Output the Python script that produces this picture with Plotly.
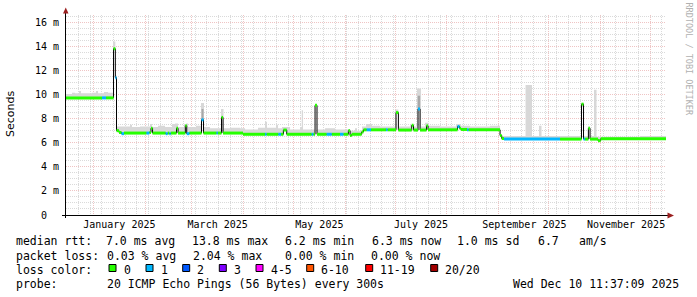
import plotly.graph_objects as go

X_START = "2024-12-15 11:37:09"
X_END = "2025-12-10 11:37:09"

# ---- median rtt (ms), step series with loss class index ----
med_dates = [
    "2024-12-15 11:37", "2025-01-06 02:00", "2025-01-08 12:00", "2025-01-13 00:00",
    "2025-01-14 02:00", "2025-01-14 19:00", "2025-01-16 07:00", "2025-01-17 19:00",
    "2025-01-19 07:00", "2025-02-01 19:00", "2025-02-03 12:00", "2025-02-04 12:00",
    "2025-02-05 10:00", "2025-02-13 07:00", "2025-02-14 12:00", "2025-02-15 12:00",
    "2025-02-16 07:00", "2025-02-19 19:00", "2025-02-20 17:00", "2025-02-25 02:00",
    "2025-02-25 22:00", "2025-02-27 12:00", "2025-03-06 19:00", "2025-03-08 00:00",
    "2025-03-15 19:00", "2025-03-16 14:00", "2025-03-18 19:00", "2025-03-19 17:00",
    "2025-03-31 17:00", "2025-04-13 22:00", "2025-04-14 19:00", "2025-04-21 22:00",
    "2025-04-23 12:00", "2025-04-24 22:00", "2025-04-26 22:00", "2025-05-11 22:00",
    "2025-05-12 22:00", "2025-05-13 22:00", "2025-05-15 02:00", "2025-05-20 22:00",
    "2025-05-23 22:00", "2025-05-28 22:00", "2025-05-30 22:00", "2025-06-02 22:00",
    "2025-06-03 22:00", "2025-06-04 22:00", "2025-06-10 22:00", "2025-06-12 00:00",
    "2025-06-13 22:00", "2025-06-16 12:00", "2025-06-25 12:00", "2025-06-26 10:00",
    "2025-07-01 12:00", "2025-07-02 22:00", "2025-07-10 22:00", "2025-07-12 00:00",
    "2025-07-14 17:00", "2025-07-15 22:00", "2025-07-19 19:00", "2025-07-20 17:00",
    "2025-08-07 10:00", "2025-08-08 14:00", "2025-08-09 12:00", "2025-08-13 02:00",
    "2025-08-14 00:00", "2025-09-01 22:00", "2025-09-02 22:00", "2025-09-04 07:00",
    "2025-10-07 22:00", "2025-10-20 19:00", "2025-10-22 00:00", "2025-10-22 22:00",
    "2025-10-24 22:00", "2025-10-25 22:00", "2025-10-30 17:00", "2025-11-01 07:00",
]
med_vals = [
    9.72, 9.72, 9.72, 13.8,
    11.4, 7.0, 6.85, 6.75,
    6.8, 6.8, 6.85, 7.2,
    6.8, 6.75, 6.8, 6.75,
    6.8, 7.2, 6.8, 7.4,
    6.75, 6.8, 7.9, 6.8,
    6.8, 6.8, 8.1, 6.8,
    6.7, 6.7, 6.7, 6.7,
    6.7, 7.05, 6.7, 6.7,
    6.7, 9.1, 6.7, 6.7,
    6.7, 6.7, 6.7, 7.0,
    6.6, 6.7, 6.9, 7.07,
    7.07, 7.07, 7.07, 7.07,
    8.5, 7.05, 7.45, 7.05,
    8.8, 7.05, 7.4, 7.07,
    7.35, 7.2, 7.1, 7.07,
    7.07, 6.6, 6.35, 6.3,
    6.3, 9.2, 6.3, 6.3,
    7.2, 6.3, 6.17, 6.33,
]
med_loss = [
    0, 1, 0, 0,
    1, 0, 0, 1,
    0, 1, 0, 0,
    0, 1, 0, 1,
    0, 0, 0, 0,
    1, 0, 1, 0,
    1, 0, 0, 0,
    0, 1, 0, 1,
    0, 0, 0, 1,
    0, 0, 0, 1,
    0, 1, 0, 0,
    0, 0, 0, 0,
    1, 0, 1, 0,
    0, 0, 0, 0,
    1, 0, 0, 0,
    1, 0, 0, 1,
    0, 0, 0, 1,
    0, 0, 1, 0,
    0, 0, 0, 0,
]

# ---- smoke (max ping spread), step series ----
smoke_dates = [
    "2024-12-15 11:37", "2024-12-19 02:00", "2024-12-20 22:00", "2024-12-23 07:00",
    "2024-12-24 12:00", "2024-12-31 02:00", "2025-01-02 12:00", "2025-01-03 17:00",
    "2025-01-07 07:00", "2025-01-09 17:00", "2025-01-12 17:00", "2025-01-14 02:00",
    "2025-01-14 19:00", "2025-01-19 22:00", "2025-01-22 22:00", "2025-01-24 02:00",
    "2025-01-28 22:00", "2025-02-03 22:00", "2025-02-05 02:00", "2025-02-08 17:00",
    "2025-02-12 22:00", "2025-02-17 02:00", "2025-02-18 22:00", "2025-02-20 17:00",
    "2025-02-24 07:00", "2025-02-25 12:00", "2025-02-26 17:00", "2025-03-03 12:00",
    "2025-03-06 12:00", "2025-03-08 07:00", "2025-03-11 22:00", "2025-03-18 12:00",
    "2025-03-20 00:00", "2025-03-23 22:00", "2025-03-29 22:00", "2025-04-01 22:00",
    "2025-04-09 17:00", "2025-04-13 22:00", "2025-04-15 02:00", "2025-04-20 12:00",
    "2025-04-21 17:00", "2025-04-24 02:00", "2025-04-28 22:00", "2025-05-04 22:00",
    "2025-05-05 22:00", "2025-05-06 17:00", "2025-05-13 22:00", "2025-05-15 02:00",
    "2025-05-19 22:00", "2025-05-25 22:00", "2025-06-03 22:00", "2025-06-06 22:00",
    "2025-06-08 02:00", "2025-06-11 02:00", "2025-06-13 12:00", "2025-06-17 02:00",
    "2025-06-21 22:00", "2025-06-30 22:00", "2025-07-02 22:00", "2025-07-09 22:00",
    "2025-07-12 00:00", "2025-07-14 02:00", "2025-07-16 12:00", "2025-07-18 22:00",
    "2025-07-20 17:00", "2025-07-27 22:00", "2025-08-06 12:00", "2025-08-09 12:00",
    "2025-08-14 22:00", "2025-08-26 22:00", "2025-09-01 22:00", "2025-09-17 05:00",
    "2025-09-21 02:00", "2025-09-25 07:00", "2025-09-26 19:00", "2025-10-04 22:00",
    "2025-10-20 12:00", "2025-10-22 07:00", "2025-10-24 17:00", "2025-10-25 22:00",
    "2025-10-28 07:00", "2025-10-29 19:00", "2025-11-09 22:00", "2025-11-24 22:00",
]
smoke_hi = [
    10.05, 10.15, 10.1, 10.3,
    10.1, 10.15, 10.3, 10.1,
    10.2, 10.15, 14.4, 11.6,
    7.35, 7.35, 7.5, 7.3,
    7.35, 7.55, 7.3, 7.4,
    7.3, 7.55, 7.6, 7.3,
    7.5, 7.6, 7.3, 7.4,
    9.3, 7.3, 7.2, 8.8,
    7.2, 7.25, 7.2, 7.1,
    7.25, 7.75, 7.25, 7.5,
    7.2, 7.3, 7.1, 7.3,
    8.7, 7.1, 9.2, 7.1,
    7.2, 7.1, 7.0, 7.2,
    7.0, 7.35, 7.55, 7.4,
    7.35, 8.75, 7.35, 7.45,
    7.35, 10.5, 7.35, 7.65,
    7.4, 7.35, 7.55, 7.4,
    7.35, 7.4, 6.55, 10.8,
    6.55, 7.4, 6.55, 6.55,
    9.3, 6.55, 7.35, 6.55,
    10.4, 6.5, 6.5, 6.55,
]
assert len(med_dates) == len(med_vals) == len(med_loss)
assert len(smoke_dates) == len(smoke_hi)

# darker smoke core at the two big spikes
dark_start = ["2025-03-06 19:00", "2025-07-14 12:00"]
dark_end = ["2025-03-08 00:00", "2025-07-15 22:00"]
dark_lo = [7.9, 8.8]
dark_hi = [8.8, 9.9]

loss_labels = ["0", "1", "2", "3", "4-5", "6-10", "11-19", "20/20"]
loss_colors = ["#26ff00", "#00b8ff", "#0059ff", "#7e00ff", "#ff00ff", "#ff5500", "#ff0000", "#a10000"]

month_starts = ["2025-%02d-01" % m for m in range(1, 13)]
label_dates = ["2025-01-16 12:00", "2025-03-16 12:00", "2025-05-16 12:00",
               "2025-07-16 12:00", "2025-09-16 12:00", "2025-11-16 12:00"]
label_texts = ["January 2025", "March 2025", "May 2025", "July 2025",
               "September 2025", "November 2025"]
y_tick_vals = [0, 2, 4, 6, 8, 10, 12, 14, 16]
y_tick_labels = ["0  ", "2 m", "4 m", "6 m", "8 m", "10 m", "12 m", "14 m", "16 m"]

stat_rows = [
    ["median rtt:", "7.0 ms avg", "13.8 ms max", "6.2 ms min", "6.3 ms now", "1.0 ms sd", "6.7", "am/s"],
    ["packet loss:", "0.03 % avg", "2.04 % max", "0.00 % min", "0.00 % now"],
    ["probe:", "20 ICMP Echo Pings (56 Bytes) every 300s", "Wed Dec 10 11:37:09 2025"],
]
stat_x = [
    [16, 106.4, 192, 285.3, 371.6, 457, 537.6, 579.2],
    [16, 106.6, 192.5, 285.3, 371.3],
    [16, 106.6, 512.6],
]
stat_y = [241, 255.5, 283.5]

MONO = "DejaVu Sans Mono"
W, H = 697, 297
L, R, T, B = 66, 31, 15, 82


def px(xp):
    return (xp - L) / (W - L - R)


def py(yp):
    return (H - B - yp) / (H - T - B)


fig = go.Figure()

ext_dates = med_dates + [X_END]
ext_med = med_vals + [med_vals[-1]]

# smoke band
fig.add_trace(go.Scatter(x=ext_dates, y=ext_med, mode="lines", line=dict(width=0, shape="hv"),
                         hoverinfo="skip", showlegend=False))
fig.add_trace(go.Scatter(x=smoke_dates + [X_END], y=smoke_hi + [smoke_hi[-1]], mode="lines",
                         line=dict(width=0, shape="hv"), fill="tonexty", fillcolor="#d8d8d8",
                         hoverinfo="skip", showlegend=False))
for s, e, lo, hi in zip(dark_start, dark_end, dark_lo, dark_hi):
    fig.add_trace(go.Scatter(x=[s, s, e, e, s], y=[lo, hi, hi, lo, lo], mode="lines",
                             line=dict(width=0), fill="toself", fillcolor="#a8a8a8",
                             hoverinfo="skip", showlegend=False))

# thin black median
fig.add_trace(go.Scatter(x=ext_dates, y=ext_med, mode="lines",
                         line=dict(width=1, color="#000000", shape="hv"),
                         hoverinfo="skip", showlegend=False))

# loss-coloured median segments
for k, col in enumerate(loss_colors):
    xs, ys = [], []
    for i, v in enumerate(med_vals):
        if med_loss[i] == k:
            xs += [ext_dates[i], ext_dates[i + 1], None]
            ys += [v, v, None]
    if xs:
        fig.add_trace(go.Scatter(x=xs, y=ys, mode="lines", line=dict(width=3, color=col),
                                 hoverinfo="skip", showlegend=False))

# carrier trace for label axis
fig.add_trace(go.Scatter(x=[X_START, X_END], y=[0, 0], xaxis="x2", mode="lines",
                         line=dict(width=0), opacity=0, hoverinfo="skip", showlegend=False))

RED = "#efc4c4"
GRAY = "#dadada"
DOT = "1px,1px"

fig.update_layout(
    width=W, height=H,
    margin=dict(l=L, r=R, t=T, b=B, pad=0),
    paper_bgcolor="#ffffff", plot_bgcolor="#ffffff",
    font=dict(family=MONO, size=10, color="#000000"),
    xaxis=dict(
        type="date", range=[X_START, X_END], tickmode="array", tickvals=month_starts,
        showticklabels=False, ticks="", showgrid=True, gridcolor=RED, gridwidth=1, griddash=DOT,
        minor=dict(dtick=7 * 86400000, tick0="2024-12-16", showgrid=True, gridcolor=GRAY,
                   gridwidth=1, griddash=DOT, ticks=""),
        showline=True, linecolor="#000000", linewidth=1, zeroline=False, fixedrange=True,
    ),
    xaxis2=dict(
        type="date", range=[X_START, X_END], overlaying="x", anchor="y", side="bottom",
        tickmode="array", tickvals=label_dates, ticktext=label_texts, showgrid=False,
        ticks="", tickfont=dict(family=MONO, size=10, color="#000000"),
        showline=False, zeroline=False, ticklabelstandoff=2,
    ),
    yaxis=dict(
        range=[0, 16.6], tickmode="array", tickvals=y_tick_vals,
        ticktext=[t.replace(" ", "\u00a0") for t in y_tick_labels],
        showgrid=True, gridcolor=RED, gridwidth=1, griddash=DOT,
        minor=dict(dtick=0.5, tick0=0, showgrid=True, gridcolor=GRAY, gridwidth=1,
                   griddash=DOT, ticks=""),
        ticks="", tickfont=dict(family=MONO, size=10, color="#000000"), ticklabelstandoff=4,
        showline=True, linecolor="#000000", linewidth=1, zeroline=False,
    ),
)

shapes = []
# axis extensions and arrows
shapes.append(dict(type="line", xref="paper", yref="paper", x0=px(62), x1=px(668), y0=py(215.5), y1=py(215.5),
                   line=dict(color="#000000", width=1)))
shapes.append(dict(type="line", xref="paper", yref="paper", x0=px(65.5), x1=px(65.5), y0=py(218), y1=py(12),
                   line=dict(color="#000000", width=1)))
shapes.append(dict(type="path", xref="paper", yref="paper",
                   path="M %f %f L %f %f L %f %f Z" % (px(63), py(13.5), px(68.5), py(13.5), px(65.75), py(7.5)),
                   fillcolor="#9b2020", line=dict(width=0)))
shapes.append(dict(type="path", xref="paper", yref="paper",
                   path="M %f %f L %f %f L %f %f Z" % (px(667.5), py(212.5), px(667.5), py(218.5), px(674), py(215.5)),
                   fillcolor="#9b2020", line=dict(width=0)))

annotations = []
annotations.append(dict(text="Seconds", xref="paper", yref="paper", x=px(10), y=py(114),
                        textangle=-90, showarrow=False, xanchor="center", yanchor="middle",
                        font=dict(family="DejaVu Sans", size=11, color="#000000")))
annotations.append(dict(text="RRDTOOL / TOBI OETIKER", xref="paper", yref="paper", x=px(688.5), y=py(59),
                        textangle=90, showarrow=False, xanchor="center", yanchor="middle",
                        font=dict(family=MONO, size=8.5, color="#b0b0b0")))

for row, xs, yv in zip(stat_rows, stat_x, stat_y):
    for txt, xv in zip(row, xs):
        annotations.append(dict(text=txt.replace(" ", "\u00a0"), xref="paper", yref="paper",
                                x=px(xv), y=py(yv), xanchor="left", yanchor="middle", showarrow=False,
                                borderpad=0, borderwidth=0,
                                font=dict(family=MONO, size=11.5, color="#000000")))

# loss colour legend row
annotations.append(dict(text="loss\u00a0color:", xref="paper", yref="paper", x=px(16), y=py(269.5),
                        xanchor="left", yanchor="middle", showarrow=False, borderpad=0, borderwidth=0,
                        font=dict(family=MONO, size=11.5, color="#000000")))
box_x = [109, 146, 182.7, 219.3, 256, 306.7, 365.7, 430.7]
for bx, lab, col in zip(box_x, loss_labels, loss_colors):
    shapes.append(dict(type="rect", xref="paper", yref="paper", x0=px(bx), x1=px(bx + 7),
                       y0=py(264.5), y1=py(271.5), fillcolor=col, line=dict(color="#000000", width=1)))
    annotations.append(dict(text=lab, xref="paper", yref="paper", x=px(bx + 14.5), y=py(269.5),
                            xanchor="left", yanchor="middle", showarrow=False, borderpad=0, borderwidth=0,
                            font=dict(family=MONO, size=11.5, color="#000000")))

fig.update_layout(shapes=shapes, annotations=annotations)

fig.write_html("out.html")
